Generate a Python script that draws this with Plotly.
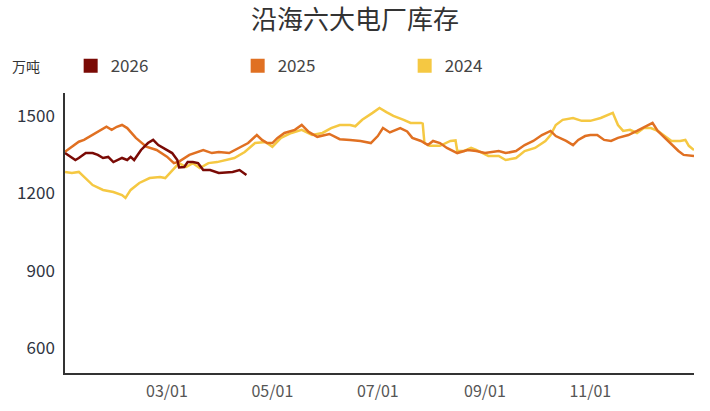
import plotly.graph_objects as go

# ---- data ----
dates_2026 = ["01-01","01-04","01-07","01-09","01-13","01-17","01-20","01-23","01-26","01-29",
              "02-01","02-03","02-06","02-08","02-10","02-14","02-18","02-21","02-24","02-26",
              "03-01","03-04","03-07","03-08","03-11","03-13","03-16","03-19","03-22","03-26",
              "03-31","04-05","04-08","04-12","04-16"]
values_2026 = [1356,1341,1329,1337,1356,1356,1349,1337,1341,1321,
               1329,1337,1329,1341,1329,1368,1395,1407,1387,1380,
               1368,1356,1329,1300,1302,1321,1321,1317,1290,1290,
               1279,1283,1283,1290,1271]

dates_2025 = ["01-01","01-04","01-09","01-12","01-17","01-25","01-28","01-31","02-03","02-06",
              "02-11","02-17","02-23","03-01","03-05","03-08","03-14","03-22","03-27","03-31",
              "04-06","04-12","04-17","04-22","04-25","04-28","05-01","05-04","05-08","05-14",
              "05-18","05-22","05-27","06-03","06-09","06-15","06-21","06-27","07-01","07-04",
              "07-08","07-14","07-18","07-21","07-26","07-30","08-02","08-06","08-10","08-16",
              "08-22","08-27","09-01","09-09","09-13","09-19","09-24","09-29","10-04","10-09",
              "10-12","10-18","10-22","10-25","10-29","11-01","11-05","11-09","11-13","11-17",
              "11-23","11-28","12-04","12-07","12-10","12-14","12-18","12-22","12-25","12-31"]
values_2025 = [1361,1376,1400,1407,1426,1458,1446,1458,1465,1453,
               1415,1381,1368,1342,1317,1323,1349,1368,1356,1360,
               1356,1376,1395,1426,1407,1395,1395,1415,1434,1446,
               1465,1438,1419,1430,1410,1407,1403,1395,1422,1453,
               1436,1453,1440,1415,1403,1387,1403,1395,1376,1356,
               1368,1364,1356,1364,1356,1364,1387,1403,1426,1442,
               1422,1403,1387,1407,1422,1426,1426,1407,1403,1415,
               1426,1442,1461,1473,1442,1415,1387,1364,1349,1345]

dates_2024 = ["01-01","01-05","01-09","01-12","01-17","01-23","01-29","02-03","02-05","02-08",
              "02-13","02-19","02-25","02-28","03-04","03-08","03-12","03-16","03-20","03-25",
              "03-30","04-05","04-09","04-15","04-21","04-27","05-01","05-06","05-12","05-18",
              "05-24","05-30","06-04","06-09","06-15","06-18","06-22","06-28","07-02","07-06",
              "07-10","07-16","07-20","07-26","07-27","07-28","07-31","08-06","08-12","08-15",
              "08-16","08-20","08-24","08-27","08-31","09-03","09-09","09-13","09-19","09-24",
              "09-30","10-06","10-09","10-12","10-16","10-22","10-27","11-01","11-07","11-14",
              "11-17","11-20","11-24","11-28","12-02","12-06","12-10","12-14","12-18","12-23",
              "12-26","12-28","12-31"]
values_2024 = [1283,1279,1283,1263,1232,1213,1205,1193,1182,1213,
               1240,1259,1263,1259,1290,1317,1302,1317,1298,1317,
               1321,1329,1337,1360,1395,1399,1380,1415,1434,1446,
               1426,1434,1453,1465,1465,1460,1485,1512,1531,1515,
               1500,1485,1473,1473,1470,1395,1384,1384,1403,1405,
               1364,1364,1376,1368,1356,1345,1345,1329,1337,1364,
               1376,1403,1426,1465,1485,1492,1481,1481,1492,1512,
               1465,1442,1446,1434,1453,1453,1442,1422,1403,1403,
               1407,1384,1368]

tick_dates = ["03-01", "05-01", "07-01", "09-01", "11-01"]
y_ticks = [600, 900, 1200, 1500]

BASE_YEAR = "2025"  # common (non-leap) year used as the month/day axis
def to_x(ds):
    return [f"{BASE_YEAR}-{d}" for d in ds]

series = [
    ("2026", dates_2026, values_2026, "#7A0A05"),
    ("2025", dates_2025, values_2025, "#E07022"),
    ("2024", dates_2024, values_2024, "#F5C842"),
]

FONT = "Noto Sans CJK SC, Noto Sans, sans-serif"

fig = go.Figure()

# legend-only entries (square swatches)
for name, _, _, color in series:
    fig.add_trace(go.Scatter(
        x=[None], y=[None], mode="markers", name=name,
        marker=dict(symbol="square", size=14, color=color),
        legendgroup=name, showlegend=True, hoverinfo="skip"))

# lines: draw 2024 first, 2026 on top
for name, ds, vs, color in reversed(series):
    fig.add_trace(go.Scatter(
        x=to_x(ds), y=vs, mode="lines", name=name,
        line=dict(color=color, width=2.5),
        legendgroup=name, showlegend=False))

fig.update_layout(
    width=710, height=411,
    margin=dict(l=65, r=16, t=93, b=38),
    paper_bgcolor="white", plot_bgcolor="white",
    font=dict(family=FONT, size=15, color="#333"),
    title=dict(text="沿海六大电厂库存", x=0.5, xanchor="center",
               y=0.952, yanchor="middle",
               font=dict(family=FONT, size=26, color="#333")),
    showlegend=True,
    legend=dict(orientation="h", x=0.009, xanchor="left", y=1.096, yanchor="middle",
                entrywidth=122, entrywidthmode="pixels",
                font=dict(family=FONT, size=17, color="#444"),
                bgcolor="rgba(0,0,0,0)"),
    annotations=[dict(text="万吨", xref="paper", yref="paper",
                      x=-0.087, xanchor="left", y=1.096, yanchor="middle",
                      showarrow=False, font=dict(family=FONT, size=14, color="#333"))],
)

fig.update_xaxes(
    type="date", automargin=False,
    range=[f"{BASE_YEAR}-01-01", f"{BASE_YEAR}-12-31"],
    tickvals=to_x(tick_dates), tickformat="%m/%d",
    showgrid=False, zeroline=False,
    showline=True, linecolor="#333", linewidth=1.5,
    ticks="", ticklabelstandoff=3,
    tickfont=dict(family=FONT, size=16, color="#555"),
)
fig.update_yaxes(
    automargin=False,
    range=[503, 1589], tickvals=y_ticks,
    showgrid=False, zeroline=False,
    showline=True, linecolor="#333", linewidth=1.5,
    ticks="", ticklabelstandoff=5,
    tickfont=dict(family=FONT, size=17, color="#2f3542"),
)

fig.write_html("out.html", config={"displayModeBar": False},
               post_script="document.body.style.margin='0';")
